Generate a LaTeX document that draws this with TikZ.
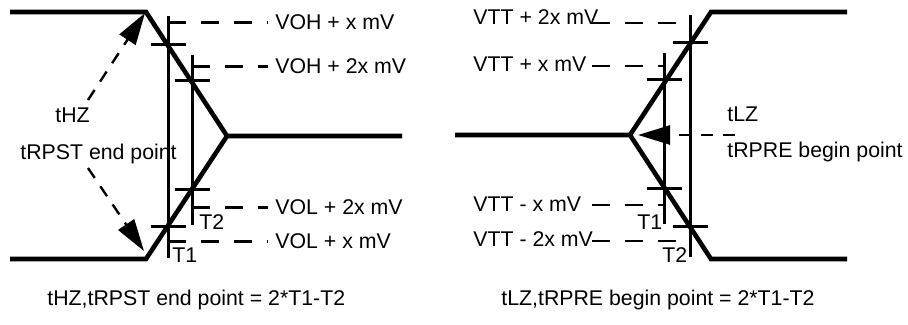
\documentclass[tikz,border=0pt]{standalone}
\usepackage{fontspec}
\setmainfont{Liberation Sans}
\usetikzlibrary{arrows.meta}

\begin{document}
\begin{tikzpicture}[x=0.5pt, y=-0.5pt,
		signal/.style={line width=2.3pt, line join=miter},
		tline/.style={line width=1.5pt},
		guide/.style={line width=1.2pt, dash pattern=on 9pt off 7.5pt},
		tarrow/.style={line width=1.2pt, dash pattern=on 6pt off 5pt, -{Triangle[length=16pt, width=9.5pt]}},
		lab/.style={inner sep=0pt, anchor=base west, font=\fontsize{10.65}{12}\selectfont}]
	\useasboundingbox (0,0) rectangle (908,325);

	% left: driver going to high-Z
	\coordinate (lhi0) at (10,12);
	\coordinate (lhi1) at (146,12);
	\coordinate (lmid) at (227,136);
	\coordinate (lmid1) at (402,136);
	\coordinate (llo0) at (10,259);
	\coordinate (llo1) at (146,259);
	\draw[signal] (lhi0) -- (lhi1) -- (lmid) -- (lmid1);
	\draw[signal] (llo0) -- (llo1) -- (lmid);
	\coordinate (lt1a) at (168,16);  \coordinate (lt1b) at (168,258);
	\coordinate (lt2a) at (192,55);  \coordinate (lt2b) at (192,225);
	\draw[tline] (lt1a) -- (lt1b) (lt2a) -- (lt2b);
	\foreach \x/\y in {168/45, 192/81, 192/190, 168/227}
		\draw[tline] (\x-17.5,\y) -- (\x+17.5,\y);

	\node[lab] (vohx) at (275,30) {VOH + x mV};
	\node[lab] (voh2x) at (275,74) {VOH + 2x mV};
	\node[lab] (vol2x) at (275,215) {VOL + 2x mV};
	\node[lab] (volx) at (275,249) {VOL + x mV};
	\draw[guide] (vohx.west -| lt1a) -- ([xshift=-3.5pt]vohx.west);
	\draw[guide] (voh2x.west -| lt2a) -- ([xshift=-3.5pt]voh2x.west);
	\draw[guide] (vol2x.west -| lt2a) -- ([xshift=-3.5pt]vol2x.west);
	\draw[guide] (volx.west -| lt1a) -- ([xshift=-3.5pt]volx.west);
	\node[lab] (lt2) at (199,230) {T2};
	\node[lab] (lt1) at (172,263) {T1};

	\node[lab] (thz) at (55,123) {tHZ};
	\node[lab] (trpst) at (20,160) {tRPST end point};
	\coordinate (thzs) at (88,100);  \coordinate (thze) at (145,13);
	\coordinate (trpsts) at (88,168); \coordinate (trpste) at (144,251);
	\draw[tarrow] (thzs) -- (thze);
	\draw[tarrow] (trpsts) -- (trpste);

	% right: driver coming out of high-Z
	\coordinate (rmid0) at (455,135);
	\coordinate (rmid) at (630,135);
	\coordinate (rhi0) at (711,12);
	\coordinate (rhi1) at (847,12);
	\coordinate (rlo0) at (711,259);
	\coordinate (rlo1) at (847,259);
	\draw[signal] (rmid0) -- (rmid) -- (rhi0) -- (rhi1);
	\draw[signal] (rmid) -- (rlo0) -- (rlo1);
	\coordinate (rt1a) at (664,53);  \coordinate (rt1b) at (664,224);
	\coordinate (rt2a) at (690,15);  \coordinate (rt2b) at (690,257);
	\draw[tline] (rt1a) -- (rt1b) (rt2a) -- (rt2b);
	\foreach \x/\y in {690/43, 664/80, 664/189, 690/227}
		\draw[tline] (\x-17.5,\y) -- (\x+17.5,\y);

	\node[lab] (vtt2p) at (473,25) {VTT + 2x mV};
	\node[lab] (vttp) at (473,72) {VTT + x mV};
	\node[lab] (vttm) at (473,212) {VTT - x mV};
	\node[lab] (vtt2m) at (473,247) {VTT - 2x mV};
	\coordinate (dvtt2p) at (592,23);
	\coordinate (dvttp) at (592,66);
	\coordinate (dvttm) at (592,205);
	\coordinate (dvtt2m) at (592,241);
	\draw[guide] (dvtt2p) -- (dvtt2p -| rt2a);
	\draw[guide] (dvttp) -- (dvttp -| rt1a);
	\draw[guide] (dvttm) -- (dvttm -| rt1a);
	\draw[guide] (dvtt2m) -- (dvtt2m -| rt2a);
	\node[lab] (rt1) at (637,230) {T1};
	\node[lab] (rt2) at (662,263) {T2};

	\node[lab] (tlz) at (727,122) {tLZ};
	\node[lab] (trpre) at (727,158) {tRPRE begin point};
	\coordinate (tlzs) at (735,135); \coordinate (tlze) at (638,135);
	\draw[tarrow] (tlzs) -- (tlze);

	% formulas
	\node[lab] (lform) at (47,305) {tHZ,tRPST end point = 2*T1-T2};
	\node[lab] (rform) at (501,305) {tLZ,tRPRE begin point = 2*T1-T2};
\end{tikzpicture}
\end{document}
